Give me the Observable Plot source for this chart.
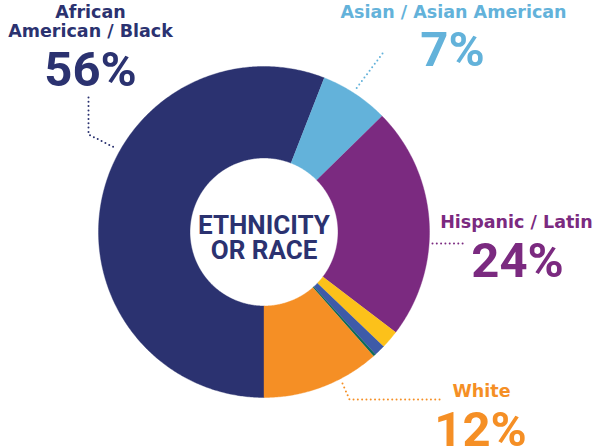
<!DOCTYPE html>
<html>
<head>
<meta charset="utf-8">
<script src="https://cdn.jsdelivr.net/npm/d3@7"></script>
<script src="https://cdn.jsdelivr.net/npm/@observablehq/plot@0.6"></script>
<style>
  body { margin: 0; background: #fff; }
</style>
</head>
<body>
<div id="chart"></div>
<script>
// slices, clockwise from 6 o'clock
const categories = ["African American / Black", "Asian / Asian American", "Hispanic / Latino", "Other 1", "Other 2", "Other 3", "White"];
const shares = [55.9, 6.7, 22.7, 1.8, 1.1, 0.25, 11.5];
const colors = ["#2b3270", "#63b2da", "#7b2a80", "#fcc11a", "#3e5ba8", "#0f6b5a", "#f58f25"];

// labelled slices
const labelCats = ["African American / Black", "Asian / Asian American", "Hispanic / Latino", "White"];
const labelLines = [["African", "American / Black"], ["Asian / Asian American"], ["Hispanic / Latin"], ["White"]];
const labelPercents = ["56%", "7%", "24%", "12%"];
const centerTitle = "ETHNICITY\nOR RACE";

// layout, in pixels
const cx = 263.5, cy = 231.5, r0 = 74, r1 = 165.5;
const spots = [
  {x: 90, y: 17, px: 90, py: 85, leader: [[88, 97], [88, 134], [116, 148]]},
  {x: 453, y: 17, px: 452, py: 65, leader: [[382, 53], [355, 89]]},
  {x: 516, y: 227, px: 517, py: 276, leader: [[432, 243], [463, 243]]},
  {x: 481, y: 396, px: 480, py: 445, leader: [[342, 383], [349, 399], [440, 399]]}
];

const arcs = d3.pie().sort(null).startAngle(Math.PI).endAngle(3 * Math.PI)(shares);
const pt = (r, a) => ({x: cx + r * Math.sin(a), y: cy - r * Math.cos(a)});
const slicePts = arcs.flatMap((a, i) => {
  const n = Math.max(2, Math.ceil((a.endAngle - a.startAngle) / 0.01));
  const t = d3.range(n + 1).map(k => a.startAngle + (a.endAngle - a.startAngle) * k / n);
  const outer = t.map(ang => ({name: categories[i], ...pt(r1, ang)}));
  const inner = t.slice().reverse().map(ang => ({name: categories[i], ...pt(r0, ang)}));
  return [...outer, ...inner];
});

const leaderPts = spots.flatMap((s, i) => s.leader.map(([x, y]) => ({name: labelCats[i], x, y})));
const nameRows = spots.flatMap((s, i) => labelLines[i].map((t, j) => ({
  name: labelCats[i], text: t, x: s.x, y: s.y + j * 19
})));
const pctRows = spots.map((s, i) => ({name: labelCats[i], text: labelPercents[i], x: s.px, y: s.py}));

const labelFont = "'DejaVu Sans', sans-serif";
const handFont = "Roboto, 'DejaVu Sans Condensed', sans-serif";

let chart = Plot.plot({
  width: 593,
  height: 448,
  margin: 0,
  x: {domain: [0, 593], range: [0, 593], axis: null},
  y: {domain: [0, 448], range: [0, 448], axis: null},
  color: {domain: categories, range: colors},
  marks: [
    Plot.line(slicePts, {x: "x", y: "y", z: "name", fill: "name", stroke: "name", strokeWidth: 0.4}),
    Plot.line(leaderPts, {
      x: "x", y: "y", z: "name", stroke: "name",
      strokeWidth: 2, strokeDasharray: "0,4.3", strokeLinecap: "round"
    }),
    Plot.text(nameRows, {
      x: "x", y: "y", text: "text", fill: "name",
      textAnchor: "middle", lineAnchor: "bottom",
      fontFamily: labelFont, fontWeight: "bold", fontSize: 17.5
    }),
    Plot.text(pctRows, {
      x: "x", y: "y", text: "text", fill: "name",
      textAnchor: "middle", lineAnchor: "bottom",
      fontFamily: handFont, fontWeight: "bold", fontSize: 49
    }),
    Plot.text([centerTitle], {
      x: () => cx, y: () => 258, text: d => d,
      fill: "#2b3270", textAnchor: "middle", lineAnchor: "bottom", lineHeight: 0.96,
      fontFamily: handFont, fontWeight: "bold", fontSize: 26
    })
  ]
});
d3.select('#chart').append(() => chart);
</script>
</body>
</html>
